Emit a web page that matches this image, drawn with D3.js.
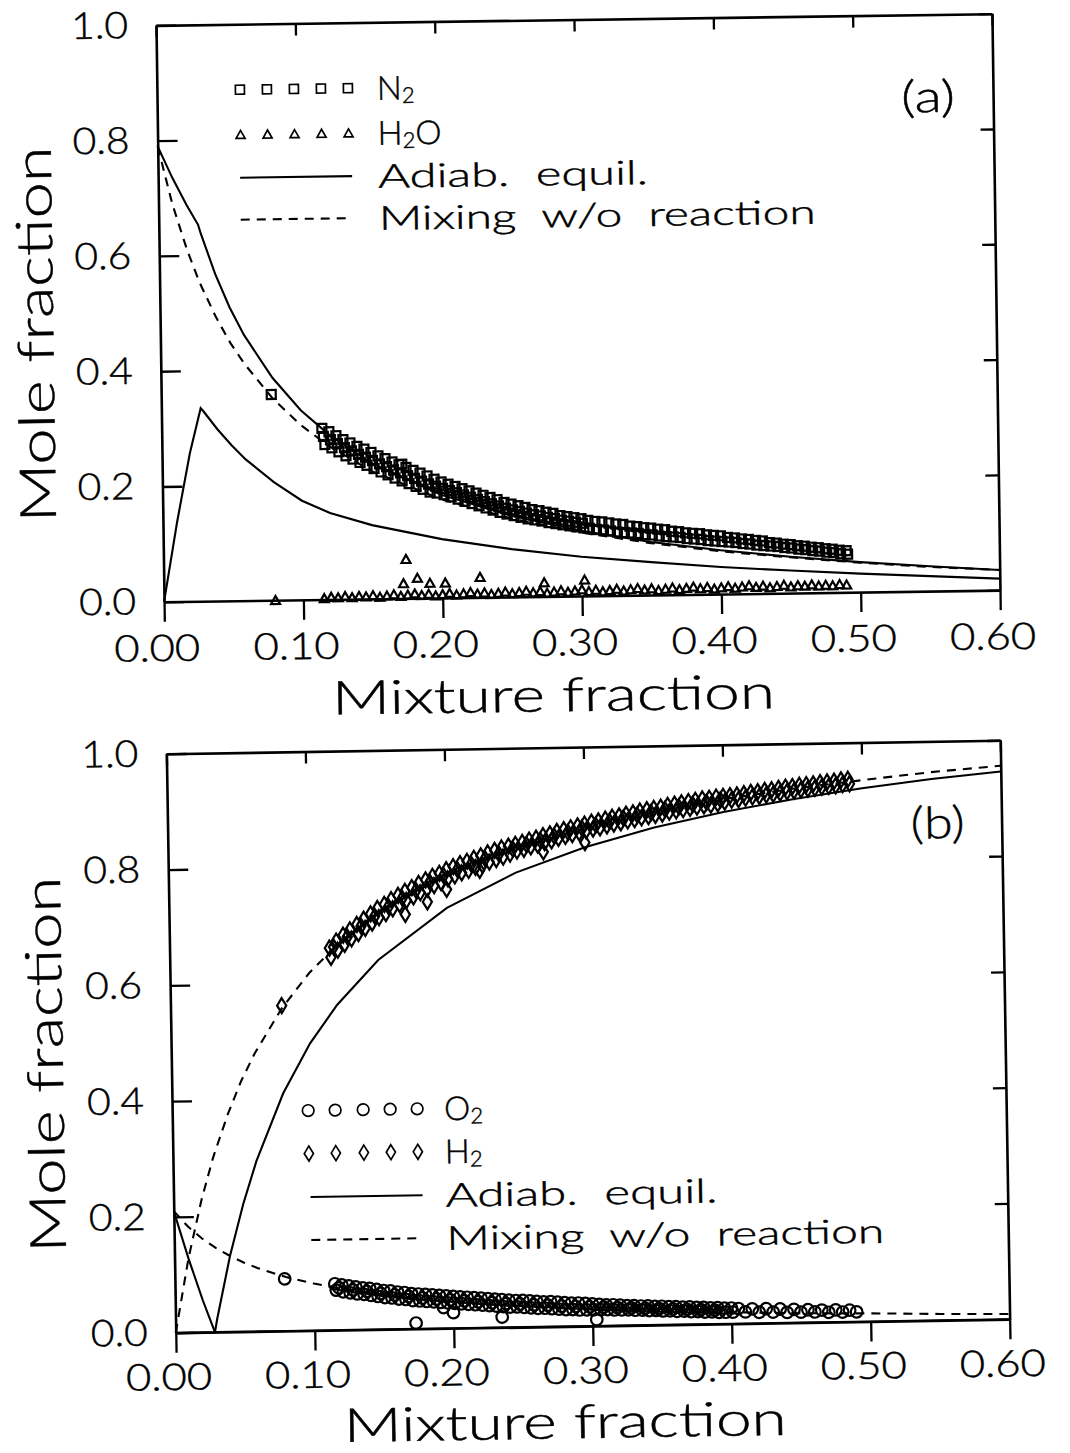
<!DOCTYPE html>
<html><head><meta charset="utf-8">
<script src="https://cdn.jsdelivr.net/npm/d3@7"></script>
<style>
html,body{margin:0;padding:0;background:#fff;}
svg{display:block;}
text{font-family:Lato,"DejaVu Sans",sans-serif;font-weight:300;fill:#000;stroke:#000;stroke-width:0.45px;white-space:pre;}
</style></head><body>
<svg id="chart" width="1070" height="1453"></svg>
<script>
// ---------- data ----------
const mixtureFraction = [0,0.01,0.02,0.0282,0.03,0.04,0.05,0.06,0.08,0.10,0.12,0.15,0.20,0.25,0.30,0.35,0.40,0.45,0.50,0.55,0.60];
const n2AdiabEquil  = [0.79,0.736,0.688,0.653,0.638,0.567,0.509,0.461,0.386,0.329,0.286,0.236,0.179,0.141,0.113,0.092,0.076,0.063,0.052,0.043,0.035];
const n2Mixing      = [0.79,0.689,0.610,0.556,0.546,0.493,0.448,0.411,0.350,0.303,0.266,0.222,0.171,0.136,0.110,0.090,0.074,0.062,0.051,0.042,0.035];
const h2oAdiabEquil = [0,0.136,0.257,0.335,0.330,0.298,0.270,0.245,0.205,0.172,0.150,0.128,0.102,0.083,0.068,0.057,0.047,0.039,0.032,0.026,0.020];
const o2AdiabEquil  = [0.21,0.128,0.054,0,0,0,0,0,0,0,0,0,0,0,0,0,0,0,0,0,0];
const o2Mixing      = [0.21,0.183,0.162,0.148,0.145,0.131,0.119,0.109,0.093,0.081,0.071,0.059,0.045,0.036,0.029,0.024,0.020,0.016,0.014,0.011,0.009];
const h2AdiabEquil  = [0,0,0,0,0.023,0.132,0.220,0.294,0.410,0.496,0.562,0.638,0.726,0.785,0.827,0.859,0.884,0.904,0.921,0.935,0.946];
const h2Mixing      = [0,0.128,0.228,0.296,0.309,0.376,0.433,0.480,0.557,0.617,0.664,0.719,0.784,0.828,0.861,0.886,0.906,0.922,0.935,0.947,0.956];

const xTickValues = [0,0.1,0.2,0.3,0.4,0.5,0.6];
const xTickLabels = ["0.00","0.10","0.20","0.30","0.40","0.50","0.60"];
const yTickValues = [0,0.2,0.4,0.6,0.8,1.0];
const yTickLabels = ["0.0","0.2","0.4","0.6","0.8","1.0"];
const xTitle = "Mixture fraction";
const yTitle = "Mole fraction";
const panelLabels = ["(a)","(b)"];

const n2Points = [[0.079,0.357],[0.172,0.233],
[0.115,0.297],[0.116,0.283],[0.117,0.269],[0.120,0.291],[0.121,0.277],[0.122,0.263],
[0.125,0.284],[0.126,0.270],[0.127,0.256],[0.130,0.277],[0.131,0.263],[0.132,0.249],
[0.135,0.271],[0.136,0.257],[0.137,0.243],[0.140,0.265],[0.141,0.251],[0.142,0.237],
[0.145,0.260],[0.146,0.246],[0.147,0.232],[0.150,0.254],[0.151,0.240],[0.152,0.226],
[0.155,0.248],[0.156,0.234],[0.157,0.220],[0.160,0.243],[0.161,0.229],[0.162,0.215],
[0.165,0.237],[0.166,0.223],[0.167,0.209],[0.170,0.232],[0.171,0.218],[0.172,0.204],
[0.175,0.227],[0.176,0.213],[0.177,0.199],[0.180,0.222],[0.181,0.208],[0.182,0.194],
[0.185,0.217],[0.186,0.203],[0.187,0.189],[0.190,0.212],[0.191,0.198],[0.192,0.184],
[0.195,0.206],[0.196,0.194],[0.197,0.182],[0.200,0.201],[0.201,0.190],[0.202,0.179],
[0.205,0.197],[0.206,0.186],[0.207,0.175],[0.210,0.193],[0.211,0.182],[0.212,0.171],
[0.215,0.189],[0.216,0.178],[0.217,0.167],[0.220,0.185],[0.221,0.174],[0.222,0.163],
[0.225,0.181],[0.226,0.170],[0.227,0.159],[0.230,0.177],[0.231,0.166],[0.232,0.155],
[0.235,0.173],[0.236,0.162],[0.237,0.151],[0.240,0.169],[0.241,0.158],[0.242,0.147],
[0.245,0.164],[0.246,0.154],[0.247,0.144],[0.250,0.161],[0.251,0.151],[0.252,0.141],
[0.255,0.158],[0.256,0.148],[0.257,0.138],[0.260,0.155],[0.261,0.145],[0.262,0.135],
[0.265,0.151],[0.266,0.142],[0.267,0.133],[0.270,0.149],[0.271,0.140],[0.272,0.131],
[0.275,0.146],[0.276,0.137],[0.277,0.128],[0.280,0.144],[0.281,0.135],[0.282,0.126],
[0.285,0.140],[0.286,0.132],[0.287,0.124],[0.290,0.138],[0.291,0.130],[0.292,0.122],
[0.295,0.136],[0.296,0.128],[0.297,0.120],[0.300,0.134],[0.301,0.126],[0.302,0.118],
[0.305,0.131],[0.306,0.117],[0.310,0.129],[0.311,0.115],[0.315,0.128],[0.316,0.114],
[0.320,0.126],[0.321,0.112],[0.325,0.124],[0.326,0.110],[0.330,0.123],[0.331,0.109],
[0.335,0.120],[0.336,0.108],[0.340,0.119],[0.341,0.107],[0.345,0.117],[0.346,0.105],
[0.350,0.116],[0.351,0.104],[0.355,0.114],[0.356,0.102],[0.360,0.113],[0.361,0.101],
[0.365,0.110],[0.366,0.100],[0.370,0.109],[0.371,0.099],[0.375,0.107],[0.376,0.097],
[0.380,0.106],[0.381,0.096],[0.385,0.105],[0.386,0.095],[0.390,0.103],[0.391,0.093],
[0.395,0.102],[0.396,0.092],[0.400,0.101],[0.401,0.091],[0.405,0.098],[0.406,0.090],
[0.410,0.097],[0.411,0.089],[0.415,0.095],[0.416,0.087],[0.420,0.094],[0.421,0.086],
[0.425,0.092],[0.426,0.084],[0.430,0.091],[0.431,0.083],[0.435,0.088],[0.436,0.082],
[0.440,0.087],[0.441,0.081],[0.445,0.085],[0.446,0.079],[0.450,0.084],[0.451,0.078],
[0.455,0.082],[0.456,0.076],[0.460,0.081],[0.461,0.075],[0.465,0.079],[0.466,0.073],
[0.470,0.078],[0.471,0.072],[0.475,0.076],[0.476,0.070],[0.480,0.075],[0.481,0.069],
[0.485,0.073],[0.486,0.067],[0.490,0.072],[0.491,0.066]];

const h2oPoints = [[0.080,0.000],[0.174,0.068],[0.172,0.026],[0.182,0.035],[0.191,0.026],[0.202,0.026],[0.227,0.035],[0.273,0.024],[0.302,0.028],
[0.115,0.002],[0.120,0.004],[0.125,0.003],[0.130,0.005],[0.135,0.003],[0.140,0.005],[0.145,0.004],[0.150,0.006],[0.155,0.003],[0.160,0.005],
[0.165,0.007],[0.170,0.004],[0.175,0.006],[0.180,0.008],[0.185,0.005],[0.190,0.007],[0.195,0.004],[0.200,0.006],[0.205,0.008],[0.210,0.005],
[0.215,0.007],[0.220,0.009],[0.225,0.006],[0.230,0.008],[0.235,0.005],[0.240,0.007],[0.245,0.009],[0.250,0.006],[0.255,0.008],[0.260,0.010],
[0.265,0.007],[0.270,0.009],[0.275,0.006],[0.280,0.008],[0.285,0.010],[0.290,0.007],[0.295,0.009],[0.300,0.011],[0.305,0.008],[0.310,0.010],
[0.315,0.007],[0.320,0.009],[0.325,0.011],[0.330,0.008],[0.335,0.010],[0.340,0.012],[0.345,0.009],[0.350,0.011],[0.355,0.008],[0.360,0.010],
[0.365,0.012],[0.370,0.009],[0.375,0.011],[0.380,0.013],[0.385,0.010],[0.390,0.012],[0.395,0.009],[0.400,0.011],[0.405,0.013],[0.410,0.010],
[0.415,0.012],[0.420,0.014],[0.425,0.011],[0.430,0.013],[0.435,0.010],[0.440,0.012],[0.445,0.014],[0.450,0.011],[0.455,0.013],[0.460,0.012],
[0.465,0.014],[0.470,0.012],[0.475,0.013],[0.480,0.012],[0.485,0.014],[0.490,0.013]];

const o2Points = [[0.079,0.090],[0.173,0.010],[0.193,0.036],[0.200,0.027],[0.235,0.018],[0.303,0.011],
[0.115,0.080],[0.116,0.069],[0.120,0.078],[0.121,0.066],[0.125,0.076],[0.126,0.064],[0.130,0.074],[0.131,0.062],
[0.135,0.072],[0.136,0.061],[0.140,0.071],[0.141,0.059],[0.145,0.069],[0.146,0.057],[0.150,0.067],[0.151,0.055],
[0.155,0.066],[0.156,0.054],[0.160,0.064],[0.161,0.052],[0.165,0.063],[0.166,0.051],[0.170,0.061],[0.171,0.049],
[0.175,0.060],[0.176,0.048],[0.180,0.059],[0.181,0.047],[0.185,0.058],[0.186,0.046],[0.190,0.057],[0.191,0.045],
[0.195,0.056],[0.196,0.044],[0.200,0.055],[0.201,0.043],[0.205,0.054],[0.206,0.042],[0.210,0.053],[0.211,0.041],
[0.215,0.052],[0.216,0.040],[0.220,0.051],[0.221,0.039],[0.225,0.050],[0.226,0.038],[0.230,0.049],[0.231,0.037],
[0.235,0.048],[0.236,0.036],[0.240,0.047],[0.241,0.035],[0.245,0.046],[0.246,0.035],[0.250,0.046],[0.251,0.034],
[0.255,0.045],[0.256,0.033],[0.260,0.044],[0.261,0.032],[0.265,0.043],[0.266,0.032],[0.270,0.043],[0.271,0.031],
[0.275,0.042],[0.276,0.030],[0.280,0.041],[0.281,0.029],[0.285,0.040],[0.286,0.029],[0.290,0.040],[0.291,0.028],
[0.295,0.039],[0.296,0.028],[0.300,0.038],[0.301,0.028],[0.305,0.037],[0.306,0.028],[0.310,0.036],[0.311,0.028],
[0.315,0.036],[0.316,0.027],[0.320,0.035],[0.321,0.027],[0.325,0.034],[0.326,0.027],[0.330,0.034],[0.331,0.026],
[0.335,0.033],[0.336,0.026],[0.340,0.033],[0.341,0.025],[0.345,0.032],[0.346,0.025],[0.350,0.032],[0.351,0.024],
[0.355,0.031],[0.356,0.024],[0.360,0.031],[0.361,0.023],[0.365,0.030],[0.366,0.023],[0.370,0.030],[0.371,0.022],
[0.375,0.029],[0.376,0.022],[0.380,0.029],[0.381,0.021],[0.385,0.028],[0.386,0.021],[0.390,0.028],[0.391,0.020],
[0.395,0.027],[0.396,0.020],[0.400,0.027],[0.401,0.020],[0.405,0.026],[0.410,0.020],[0.415,0.025],[0.420,0.019],
[0.425,0.025],[0.430,0.019],[0.435,0.024],[0.440,0.018],[0.445,0.023],[0.450,0.018],[0.455,0.022],[0.460,0.018],
[0.465,0.021],[0.470,0.017],[0.475,0.021],[0.480,0.017],[0.485,0.020],[0.490,0.017],
[0.118,0.073],[0.128,0.069],[0.138,0.066],[0.148,0.062],[0.158,0.059],[0.168,0.056],[0.178,0.053],[0.188,0.051],
[0.198,0.049],[0.208,0.047],[0.218,0.045],[0.228,0.043],[0.238,0.041],[0.248,0.040],[0.258,0.038],[0.268,0.037],
[0.278,0.035],[0.288,0.034],[0.298,0.033],[0.308,0.032],[0.318,0.031],[0.328,0.030],[0.338,0.029],[0.348,0.028],
[0.358,0.027],[0.368,0.026],[0.378,0.025],[0.388,0.024]];

const h2Points = [[0.080,0.562],[0.170,0.716],[0.186,0.737],[0.200,0.758],[0.224,0.790],[0.270,0.820],[0.300,0.835],
[0.115,0.660],[0.116,0.644],[0.120,0.672],[0.121,0.656],[0.125,0.682],[0.126,0.666],[0.130,0.691],[0.131,0.675],
[0.135,0.700],[0.136,0.684],[0.140,0.709],[0.141,0.693],[0.145,0.718],[0.146,0.702],[0.150,0.727],[0.151,0.711],
[0.155,0.734],[0.156,0.718],[0.160,0.742],[0.161,0.726],[0.165,0.749],[0.166,0.733],[0.170,0.756],[0.171,0.740],
[0.175,0.762],[0.176,0.746],[0.180,0.769],[0.181,0.753],[0.185,0.775],[0.186,0.759],[0.190,0.781],[0.191,0.765],
[0.195,0.786],[0.196,0.770],[0.200,0.792],[0.201,0.776],[0.205,0.797],[0.206,0.781],[0.210,0.802],[0.211,0.786],
[0.215,0.806],[0.216,0.790],[0.220,0.811],[0.221,0.795],[0.225,0.815],[0.226,0.799],[0.230,0.820],[0.231,0.804],
[0.235,0.824],[0.236,0.808],[0.240,0.828],[0.241,0.812],[0.245,0.831],[0.246,0.817],[0.250,0.834],[0.251,0.822],
[0.255,0.837],[0.256,0.825],[0.260,0.841],[0.261,0.829],[0.265,0.844],[0.266,0.832],[0.270,0.848],[0.271,0.836],
[0.275,0.851],[0.276,0.839],[0.280,0.855],[0.281,0.843],[0.285,0.858],[0.286,0.846],[0.290,0.861],[0.291,0.849],
[0.295,0.864],[0.296,0.852],[0.300,0.867],[0.301,0.855],[0.305,0.870],[0.306,0.858],[0.310,0.872],[0.311,0.860],
[0.315,0.875],[0.316,0.863],[0.320,0.878],[0.321,0.866],[0.325,0.880],[0.326,0.868],[0.330,0.883],[0.331,0.871],
[0.335,0.885],[0.336,0.873],[0.340,0.888],[0.341,0.876],[0.345,0.890],[0.346,0.878],[0.350,0.892],[0.351,0.880],
[0.355,0.894],[0.356,0.882],[0.360,0.897],[0.361,0.885],[0.365,0.899],[0.366,0.887],[0.370,0.901],[0.371,0.889],
[0.375,0.903],[0.376,0.891],[0.380,0.905],[0.381,0.893],[0.385,0.907],[0.386,0.895],[0.390,0.908],[0.391,0.896],
[0.395,0.910],[0.396,0.898],[0.400,0.911],[0.401,0.901],[0.405,0.912],[0.406,0.904],[0.410,0.913],[0.411,0.905],
[0.415,0.915],[0.416,0.907],[0.420,0.917],[0.421,0.909],[0.425,0.918],[0.426,0.910],[0.430,0.920],[0.431,0.912],
[0.435,0.921],[0.436,0.913],[0.440,0.923],[0.441,0.915],[0.445,0.925],[0.446,0.917],[0.450,0.926],[0.451,0.918],
[0.455,0.928],[0.456,0.920],[0.460,0.929],[0.461,0.921],[0.465,0.930],[0.466,0.922],[0.470,0.932],[0.471,0.924],
[0.475,0.933],[0.476,0.925],[0.480,0.934],[0.481,0.926],[0.485,0.936],[0.486,0.928],[0.490,0.937],[0.491,0.929],
[0.118,0.662],[0.128,0.679],[0.138,0.697],[0.148,0.714],[0.158,0.730],[0.168,0.744],[0.178,0.757],[0.188,0.771],
[0.198,0.782],[0.208,0.792],[0.218,0.801],[0.228,0.810],[0.238,0.818],[0.248,0.826],[0.258,0.833],[0.268,0.840],
[0.278,0.847],[0.288,0.853],[0.298,0.860],[0.308,0.865],[0.318,0.871],[0.328,0.876],[0.338,0.881],[0.348,0.885],
[0.358,0.890],[0.368,0.894],[0.378,0.898],[0.388,0.901],[0.398,0.905]];

const legendLabelsA = [["N","2",""],["H","2","O"],"Adiab.  equil.","Mixing  w/o  reaction"];
const legendLabelsB = [["O","2",""],["H","2",""],"Adiab.  equil.","Mixing  w/o  reaction"];

// ---------- drawing ----------
const svg = d3.select("#chart");

function symbolPath(type){
  if(type==="square") return "M-4.5,-4.5h9v9h-9Z";
  if(type==="triangle") return "M0,-4.3L4.5,3.7L-4.5,3.7Z";
  if(type==="circle") return "M-5.8,0a5.8,5.8 0 1,0 11.6,0a5.8,5.8 0 1,0 -11.6,0Z";
  if(type==="diamond") return "M0,-7.5L4.6,0L0,7.5L-4.6,0Z";
}

function drawPanel(p){
  const g = svg.append("g").attr("transform",`rotate(${p.rot},${p.cx},${p.cy})`);
  const x = d3.scaleLinear().domain([0,0.6]).range([p.x0,p.x1]);
  const y = d3.scaleLinear().domain([0,1]).range([p.y1,p.y0]);

  const ax = [];
  ax.push(g.append("g").attr("transform",`translate(0,${p.y1})`)
    .call(d3.axisBottom(x).tickValues(xTickValues).tickFormat((d,i)=>xTickLabels[i])
      .tickSizeInner(20).tickSizeOuter(0).tickPadding(p.xPad)));
  ax.push(g.append("g").attr("transform",`translate(0,${p.y0})`)
    .call(d3.axisTop(x).tickValues(xTickValues).tickFormat("").tickSizeInner(-12).tickSizeOuter(0)));
  ax.push(g.append("g").attr("transform",`translate(${p.x0},0)`)
    .call(d3.axisLeft(y).tickValues(yTickValues).tickFormat((d,i)=>yTickLabels[i])
      .tickSizeInner(-20).tickSizeOuter(0).tickPadding(28)));
  ax.push(g.append("g").attr("transform",`translate(${p.x1},0)`)
    .call(d3.axisRight(y).tickValues(yTickValues).tickFormat("").tickSizeInner(-13).tickSizeOuter(0)));
  ax.forEach(a=>{
    a.attr("font-family",null).attr("font-size",null);
    a.select(".domain").attr("stroke","#000").attr("stroke-width",2.6);
    a.selectAll(".tick line").attr("stroke","#000").attr("stroke-width",2.3);
  });
  ax[0].selectAll(".tick text").attr("font-size",37).attr("dx",-8)
    .attr("textLength",86).attr("lengthAdjust","spacingAndGlyphs");
  ax[2].selectAll(".tick text").attr("font-size",37)
    .attr("textLength",57).attr("lengthAdjust","spacingAndGlyphs");

  g.append("text").attr("x",p.xt[0]).attr("y",p.xt[1]).attr("text-anchor","middle")
    .attr("font-size",47).attr("textLength",443).attr("lengthAdjust","spacingAndGlyphs").text(xTitle);
  g.append("text").attr("transform",`translate(${p.yt[0]},${p.yt[1]}) rotate(-90)`).attr("text-anchor","middle")
    .attr("font-size",50).attr("textLength",376).attr("lengthAdjust","spacingAndGlyphs").text(yTitle);
  g.append("text").attr("x",p.lab[0]).attr("y",p.lab[1]).attr("font-size",44)
    .attr("textLength",54).attr("lengthAdjust","spacingAndGlyphs").text(p.label);

  const line = d3.line().x(d=>x(d[0])).y(d=>y(d[1]));
  p.lines.forEach(L=>{
    g.append("path").datum(mixtureFraction.map((f,i)=>[f,L.values[i]]))
      .attr("d",line).attr("fill","none").attr("stroke","#000").attr("stroke-width",2.1)
      .attr("stroke-dasharray",L.dashed?"9,7":null);
  });

  p.points.forEach(S=>{
    g.append("g").selectAll("path").data(S.data).join("path")
      .attr("transform",d=>`translate(${x(d[0])},${y(d[1])})`)
      .attr("d",symbolPath(S.type)).attr("fill","none").attr("stroke","#000").attr("stroke-width",2.2);
  });

  const lg = g.append("g");
  p.legend.forEach((it,i)=>{
    const my = p.leg.rows[i];
    if(it.type==="solid"||it.type==="dashed"){
      lg.append("line").attr("x1",p.leg.lx[0]).attr("x2",p.leg.lx[1]).attr("y1",my).attr("y2",my)
        .attr("stroke","#000").attr("stroke-width",2.1).attr("stroke-dasharray",it.type==="dashed"?"9,7":null);
    } else {
      lg.append("g").selectAll("path").data(p.leg.mx).join("path")
        .attr("transform",d=>`translate(${d},${my})`).attr("d",symbolPath(it.type))
        .attr("fill","none").attr("stroke","#000").attr("stroke-width",1.7);
    }
    const t = lg.append("text").attr("x",p.leg.tx).attr("y",my+12).attr("font-size",33);
    if(Array.isArray(it.label)){
      t.append("tspan").text(it.label[0]);
      t.append("tspan").attr("font-size",22).attr("dy",3.5).text(it.label[1]);
      if(it.label[2]) t.append("tspan").attr("dy",-3.5).text(it.label[2]);
    } else {
      t.attr("textLength",it.w).attr("lengthAdjust","spacingAndGlyphs").text(it.label);
    }
  });
}

drawPanel({
  x0:160,x1:996,y0:19.5,y1:596,cx:578,cy:308,rot:-0.8,xPad:13,
  xt:[548,711], yt:[53,327], lab:[904,117], label:panelLabels[0],
  lines:[{values:n2AdiabEquil},{values:h2oAdiabEquil},{values:n2Mixing,dashed:true}],
  points:[{type:"square",data:n2Points},{type:"triangle",data:h2oPoints}],
  legend:[{type:"square",label:legendLabelsA[0]},{type:"triangle",label:legendLabelsA[1]},
          {type:"solid",label:legendLabelsA[2],w:270},{type:"dashed",label:legendLabelsA[3],w:437}],
  leg:{rows:[85,130,173,215], mx:[243,270,297,324,351], lx:[242,354], tx:380}
});
drawPanel({
  x0:171,x1:1005,y0:747,y1:1326,cx:588,cy:1036,rot:-0.93,xPad:11,
  xt:[559,1438], yt:[62.5,1056], lab:[914,844], label:panelLabels[1],
  lines:[{values:h2AdiabEquil},{values:o2AdiabEquil},{values:h2Mixing,dashed:true},{values:o2Mixing,dashed:true}],
  points:[{type:"circle",data:o2Points},{type:"diamond",data:h2Points}],
  legend:[{type:"circle",label:legendLabelsB[0]},{type:"diamond",label:legendLabelsB[1]},
          {type:"solid",label:legendLabelsB[2],w:272},{type:"dashed",label:legendLabelsB[3],w:438}],
  leg:{rows:[1106,1149,1192.5,1235.5], mx:[307,334,362,389,416], lx:[308,420], tx:443}
});
</script></body></html>
